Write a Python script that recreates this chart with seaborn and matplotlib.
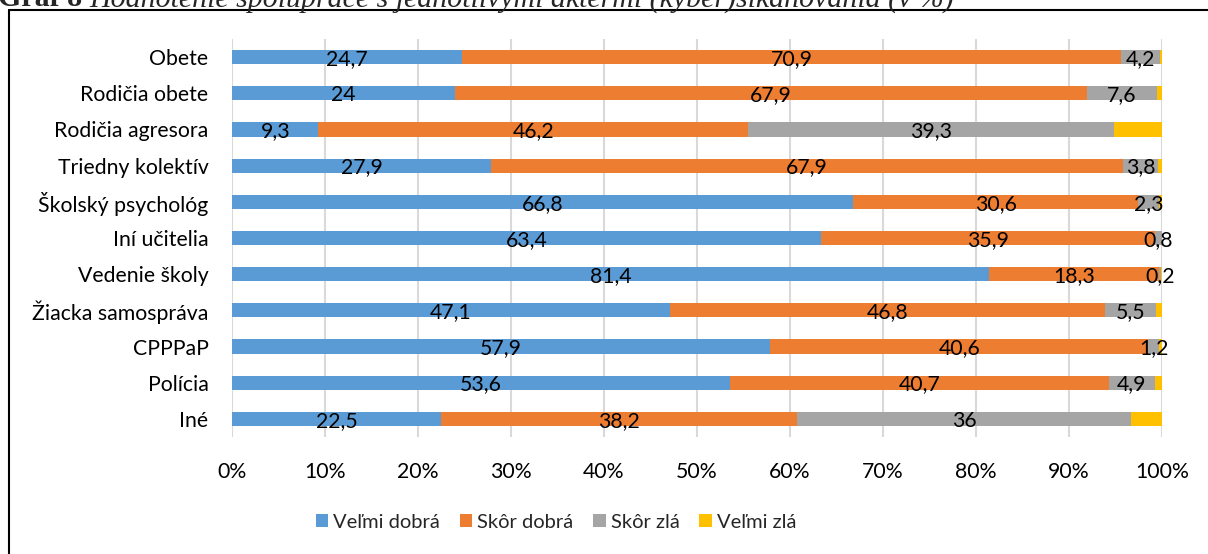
import numpy as np
import pandas as pd
import matplotlib
matplotlib.use("Agg")
import matplotlib.pyplot as plt
import seaborn as sns
from matplotlib.patches import Patch

categories = ["Obete", "Rodičia obete", "Rodičia agresora", "Triedny kolektív",
              "Školský psychológ", "Iní učitelia", "Vedenie školy",
              "Žiacka samospráva", "CPPPaP", "Polícia", "Iné"]
velmi_dobra = [24.7, 24.0, 9.3, 27.9, 66.8, 63.4, 81.4, 47.1, 57.9, 53.6, 22.5]
skor_dobra = [70.9, 67.9, 46.2, 67.9, 30.6, 35.9, 18.3, 46.8, 40.6, 40.7, 38.2]
skor_zla = [4.2, 7.6, 39.3, 3.8, 2.3, 0.8, 0.2, 5.5, 1.2, 4.9, 36.0]
velmi_zla = [0.2, 0.5, 5.2, 0.4, 0.3, 0.0, 0.1, 0.6, 0.3, 0.8, 3.3]
series_names = ["Veľmi dobrá", "Skôr dobrá", "Skôr zlá", "Veľmi zlá"]
colors = ["#5B9BD5", "#ED7D31", "#A5A5A5", "#FFC000"]
xtick_labels = ["0%", "10%", "20%", "30%", "40%", "50%", "60%", "70%", "80%", "90%", "100%"]
title_bold = "Graf 8"
title_rest = "Hodnotenie spolupráce s jednotlivými aktérmi (kyber)šikanovania (v %)"

sns.set_theme(style="white")
plt.rcParams['font.family'] = ['Lato', 'DejaVu Sans']
FS = 15.3

vals = np.array([velmi_dobra, skor_dobra, skor_zla, velmi_zla], dtype=float)
totals = vals.sum(axis=0)
shares = vals / totals * 100
cum = np.cumsum(shares, axis=0)

W, H = 1208, 554
fig = plt.figure(figsize=(W / 100, H / 100), dpi=100)
ax = fig.add_axes([232 / W, 1 - 437 / H, (1162 - 232) / W, (437 - 39) / H])

for i in range(3, -1, -1):
    df = pd.DataFrame({"cat": categories, "val": cum[i]})
    sns.barplot(data=df, y="cat", x="val", orient="h", color=colors[i],
                width=0.39, saturation=1, linewidth=0, ax=ax, order=categories)

# data labels
for i in range(3):
    for j, cat in enumerate(categories):
        left = cum[i][j] - shares[i][j]
        center = left + shares[i][j] / 2
        v = vals[i][j]
        lab = (f"{v:.1f}".rstrip("0").rstrip(".")).replace(".", ",")
        ax.text(center, j + 0.05, lab, ha="center", va="center",
                fontsize=FS, color="black")

ax.set_xlim(0, 100)
ax.set_ylim(10.5, -0.5)
ax.set_xticks(np.arange(0, 101, 10))
ax.set_xticklabels(xtick_labels)
ax.xaxis.grid(True, color="#D9D9D9", linewidth=1.5)
ax.set_axisbelow(True)
for s in ax.spines.values():
    s.set_visible(False)
ax.tick_params(axis="x", length=0, pad=18, labelsize=FS, colors="black")
ax.tick_params(axis="y", length=0, pad=17, labelsize=FS, colors="black")
ax.set_xlabel("")
ax.set_ylabel("")

handles = [Patch(facecolor=c, edgecolor="none") for c in colors]
fig.legend(handles, series_names, loc="center", ncol=4,
           bbox_to_anchor=(556 / W, 1 - 522 / H), frameon=False,
           fontsize=14.5, handlelength=0.6, handleheight=0.6,
           handletextpad=0.25, columnspacing=1.0)

# frame
fig.add_artist(plt.Line2D([9 / W, 1.0], [1 - 10 / H, 1 - 10 / H], color="black",
                          linewidth=1.5, transform=fig.transFigure))
fig.add_artist(plt.Line2D([9 / W, 9 / W], [1 - 10 / H, 0], color="black",
                          linewidth=1.5, transform=fig.transFigure))

# title, partly cut off at the top edge as in the reference
t1 = fig.text(-2 / W, 1 - 6.5 / H, title_bold + " ", fontsize=21.5, fontweight="bold",
              family=["Liberation Serif", "DejaVu Serif"], va="baseline", ha="left")
fig.canvas.draw()
bb = t1.get_window_extent(renderer=fig.canvas.get_renderer())
fig.text(bb.x1 / W, 1 - 6.5 / H, title_rest, fontsize=21.5, style="italic",
         family=["Liberation Serif", "DejaVu Serif"], va="baseline", ha="left")

fig.savefig("out.png", dpi=100)
